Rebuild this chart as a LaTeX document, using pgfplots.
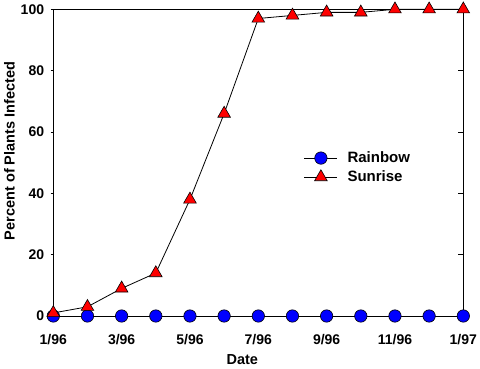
\documentclass[border=0pt]{standalone}
\usepackage{pgfplots}
\pgfplotsset{compat=1.18}
\usepackage{fontspec}
\setmainfont{Liberation Sans}
\definecolor{mblue}{RGB}{0,0,255}
\definecolor{mred}{RGB}{255,0,0}
\begin{document}
\begin{tikzpicture}
\useasboundingbox (0,0) rectangle (480bp,369bp);
\begin{axis}[
  at={(53.3bp,53bp)}, anchor=south west,
  scale only axis, width=410bp, height=306.7bp,
  xmin=0, xmax=12, ymin=0, ymax=100,
  clip=false,
  axis line style={line width=0.8bp},
  xtick={0,2,...,12},
  xticklabels={1/96,3/96,5/96,7/96,9/96,11/96,1/97},
  xtick style={draw=none},
  ytick={0,20,...,100},
  ytick pos=left,
  tick align=outside,
  major tick length=2.7bp,
  ytick style={line width=0.8bp, black},
  /pgf/number format/assume math mode=true,
  tick label style={font=\bfseries\fontsize{14bp}{16bp}\selectfont},
  xticklabel style={yshift=-12bp},
  yticklabel style={xshift=-3bp},
  label style={font=\bfseries\fontsize{14.5bp}{17bp}\selectfont},
  xlabel={Date},
  ylabel={Percent of Plants Infected},
  xlabel style={at={(axis description cs:0.461,-0.1435)}, anchor=center},
  ylabel style={at={(axis description cs:-0.107,0.538)}, anchor=center, rotate=0},
  legend style={draw=none, fill=none, at={(axis description cs:0.611,0.484)}, anchor=west,
    inner sep=0pt, row sep=5.5bp,
    font=\bfseries\fontsize{15bp}{18bp}\selectfont,
    nodes={inner sep=0pt, anchor=west}},
  legend cell align=left,
  legend image code/.code={\draw[mark repeat=2,mark phase=2] plot coordinates {(0bp,0bp)(16.5bp,0bp)(33bp,0bp)};
    \path (42.7bp,0bp);},
]
\addplot[black, line width=0.8bp, mark=*, mark size=6.2bp,
  mark options={fill=mblue, draw=black, line width=0.6bp}]
  coordinates {(0,0)(1,0)(2,0)(3,0)(4,0)(5,0)(6,0)(7,0)(8,0)(9,0)(10,0)(11,0)(12,0)};
\addlegendentry{Rainbow}
\addplot[black, line width=0.8bp, mark=triangle*, mark size=7.3bp,
  mark options={fill=mred, draw=black, line width=0.6bp}]
  coordinates {(0,1)(1,3)(2,9)(3,14)(4,38)(5,66)(6,97)(7,98)(8,99)(9,99)(10,100)(11,100)(12,100)};
\addlegendentry{Sunrise}
\end{axis}
\begin{axis}[
  at={(53.3bp,53bp)}, anchor=south west,
  scale only axis, width=410bp, height=306.7bp,
  xmin=0, xmax=12, ymin=0, ymax=100,
  axis x line=none, axis y line*=right,
  axis line style={draw=none},
  ytick={20,40,60,80}, yticklabels={},
  tick align=inside, major tick length=5bp,
  ytick style={line width=0.8bp, black},
]
\addplot[draw=none] coordinates {(0,0)};
\end{axis}
\end{tikzpicture}
\end{document}
